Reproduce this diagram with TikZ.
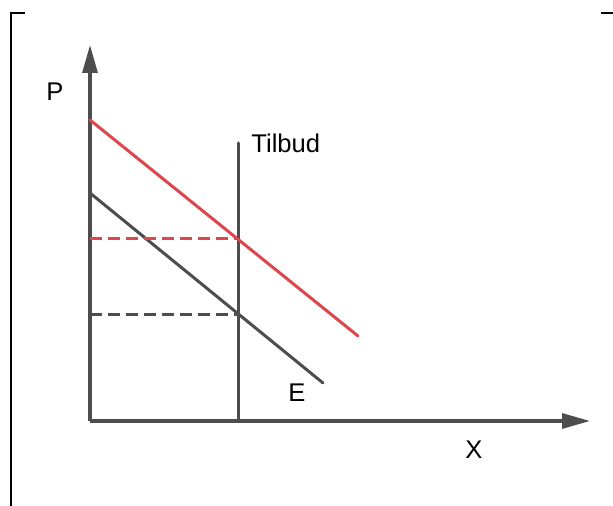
\documentclass[tikz,border=0pt]{standalone}
\usepackage{fontspec}
\setmainfont{Liberation Sans}
\usetikzlibrary{arrows.meta}
\definecolor{axisgray}{RGB}{77,77,77}
\definecolor{demandred}{RGB}{222,70,78}
\begin{document}
\begin{tikzpicture}[x=0.5pt, y=-0.5pt,
        axis/.style={line width=1.6pt, draw=axisgray, -{Triangle[length=14pt, width=7.5pt]}},
        curve/.style={line width=1.5pt, line cap=round},
        level/.style={line width=1.5pt, dash pattern=on 6pt off 3pt},
        lbl/.style={font=\fontsize{12.8pt}{14pt}\selectfont, inner sep=0pt}
      ]
      \useasboundingbox (0,0) rectangle (613,506);
      % frame
      \draw[line width=1pt] (25,13) -- (11,13) -- (11,506);
      \draw[line width=1pt] (601,13) -- (613,13);
      % axes
      \coordinate (o) at (90,421);
      \coordinate (ytop) at (90,45);
      \coordinate (xend) at (590,421);
      \draw[axis] (o) -- (ytop);
      \draw[axis] (o) -- (xend);
      \node[lbl] (p) at (55,92) {P};
      \node[lbl] (x) at (474,450) {X};
      % supply
      \coordinate (s0) at (238,421);
      \coordinate (s1) at (238,143);
      \draw[curve, draw=axisgray] (s0) -- (s1);
      \node[lbl, anchor=west] (tilbud) at (251,143) {Tilbud};
      % demand curves
      \coordinate (r0) at (90,120);
      \coordinate (r1) at (358,336);
      \coordinate (e0) at (90,193);
      \coordinate (e1) at (323,383);
      \draw[curve, draw=demandred] (r0) -- (r1);
      \draw[curve, draw=axisgray] (e0) -- (e1);
      \node[lbl] (e) at (297,393) {E};
      % price levels
      \coordinate (pr) at (238,239);
      \coordinate (pe) at (238,315);
      \draw[level, draw=demandred] (90,239) -- (pr);
      \draw[level, draw=axisgray] (90,315) -- (pe);
    \end{tikzpicture}
\end{document}
